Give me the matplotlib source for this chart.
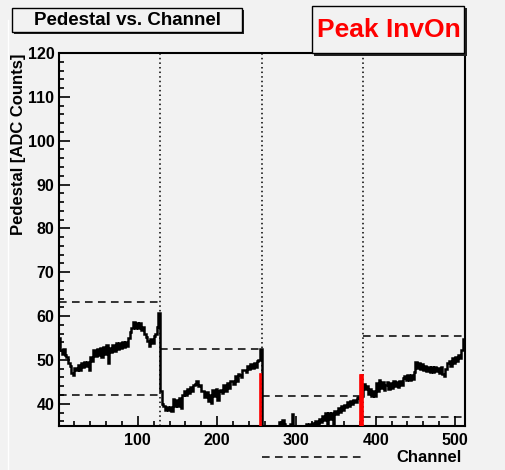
import numpy as np
import matplotlib
matplotlib.use("Agg")
import matplotlib.pyplot as plt
from matplotlib.patches import Rectangle
from matplotlib.lines import Line2D
from matplotlib.ticker import MultipleLocator

plt.rcParams['font.family'] = ['Liberation Sans', 'DejaVu Sans']
plt.rcParams['font.weight'] = 'bold'

# pedestal per channel pair (2 channels per bin), one list per 128-channel chip
chip0 = [55.0, 52.2, 51.4, 52.6, 51.2, 50.6, 49.3, 48.6, 47.0, 46.6, 48.2, 47.6, 48.9, 47.8, 49.4, 48.4,
         49.6, 48.6, 49.5, 47.7, 50.6, 49.8, 52.2, 50.9, 52.4, 51.2, 52.7, 50.6, 53.0, 51.4, 53.3, 49.4,
         52.8, 51.9, 53.5, 52.0, 53.8, 52.6, 53.9, 52.8, 54.1, 53.0, 54.2, 53.2, 55.0, 56.4, 57.2, 58.6,
         57.2, 58.5, 57.3, 58.4, 56.9, 57.4, 55.8, 55.2, 54.4, 53.2, 54.8, 53.9, 55.4, 55.9, 57.6, 60.8]
chip1 = [43.0, 40.0, 39.4, 38.6, 39.3, 38.5, 39.2, 38.4, 41.2, 39.5, 40.9, 39.4, 41.3, 39.0, 42.0, 42.8,
         41.9, 43.4, 42.5, 43.9, 42.9, 44.3, 44.4, 45.1, 44.0, 44.3, 42.8, 42.9, 41.6, 42.7, 40.7, 42.0,
         40.1, 43.1, 41.8, 43.3, 40.9, 42.9, 43.1, 42.4, 44.2, 43.0, 44.8, 43.5, 45.2, 45.3, 44.4, 46.3,
         45.1, 46.8, 46.5, 46.0, 47.6, 47.8, 47.3, 48.7, 47.9, 49.1, 48.1, 49.4, 48.5, 49.8, 50.0, 52.6]
chip2 = [33.0, 33.0, 33.0, 33.0, 33.0, 33.0, 33.0, 33.0, 33.0, 33.0, 33.0, 35.8, 34.0, 36.3, 35.5, 34.0,
         33.0, 33.0, 35.4, 37.6, 34.0, 33.0, 33.0, 33.0, 33.0, 33.0, 33.0, 33.0, 35.3, 34.0, 35.4, 35.0,
         35.6, 34.8, 36.1, 35.4, 36.6, 35.8, 37.2, 36.4, 37.8, 35.2, 38.0, 36.6, 37.9, 34.8, 38.4, 37.6,
         39.0, 38.2, 39.4, 38.6, 39.8, 39.2, 40.3, 39.6, 40.6, 40.0, 40.9, 40.4, 41.3, 41.6, 40.9, 41.8]
chip3 = [44.6, 43.3, 44.1, 42.2, 43.3, 41.7, 42.9, 41.8, 44.7, 43.0, 45.5, 43.7, 45.0, 43.2, 44.2, 44.9,
         43.3, 44.7, 43.6, 45.1, 44.0, 45.0, 43.9, 45.1, 44.2, 45.8, 46.4, 45.4, 46.5, 45.5, 46.6, 45.7,
         47.2, 49.6, 48.2, 49.2, 48.0, 49.0, 47.6, 48.6, 47.4, 48.5, 47.3, 48.3, 47.2, 48.4, 47.4, 48.2,
         47.1, 48.5, 46.9, 46.4, 48.0, 49.2, 49.8, 48.7, 50.4, 49.4, 50.7, 49.8, 51.2, 50.4, 52.2, 54.8]
pedestal = chip0 + chip1 + chip2 + chip3
bin_edges = np.arange(0, 513, 2)

chip_bounds = [0, 128, 256, 384, 512]
upper_cut = [63.2, 52.4, 41.7, 55.5]
lower_cut = [42.1, 31.0, 28.0, 36.9]

bad_channels = [255, 381, 382, 383]
bad_values = [46.9, 46.6, 46.6, 46.6]

bg = '#f2f2f2'
W, H = 505, 470
fig = plt.figure(figsize=(W / 100, H / 100), dpi=100, facecolor=bg)
ax = fig.add_axes([58.5 / W, 1 - 425.7 / H, 406 / W, 372.7 / H], facecolor=bg)

def fx(x):
    return x / W

def fy(y):
    return 1 - y / H

# pad border lines
fig.add_artist(Line2D([fx(8), fx(8)], [fy(20), fy(470)], color='white', lw=1))

ax.stairs(pedestal, bin_edges, baseline=None, color='black', lw=1.8)
ax.bar(bad_channels, [v - 30 for v in bad_values], bottom=30, width=1.0,
       color='red', edgecolor='red', lw=1.2, zorder=3)

for i in range(4):
    ax.hlines([upper_cut[i], lower_cut[i]], chip_bounds[i], chip_bounds[i + 1],
              colors='black', linestyles=(0, (5, 3.5)), lw=1.1)
for b in chip_bounds[1:4]:
    ax.axvline(b, color='black', ls=(0, (1, 2)), lw=1.1)

ax.set_xlim(0, 512)
ax.set_ylim(35, 120)
ax.set_xticks([100, 200, 300, 400, 500])
ax.set_yticks(range(40, 121, 10))
ax.xaxis.set_minor_locator(MultipleLocator(20))
ax.yaxis.set_minor_locator(MultipleLocator(2))
ax.tick_params(axis='both', which='both', direction='in', width=1.2, labelsize=11.5)
ax.tick_params(axis='y', which='major', length=8, pad=3)
ax.tick_params(axis='y', which='minor', length=3.8)
ax.tick_params(axis='x', which='major', length=7.5, pad=5)
ax.tick_params(axis='x', which='minor', length=3.8)
for s in ax.spines.values():
    s.set_linewidth(1.5)

fig.text(fx(18.5), fy(54), 'Pedestal [ADC Counts]', rotation=90, ha='center', va='top',
         fontsize=12, fontweight='bold')
fig.text(fx(462), fy(462), 'Channel', ha='right', va='baseline', fontsize=12, fontweight='bold')
fig.add_artist(Line2D([fx(262), fx(361)], [fy(457), fy(457)], color='black', lw=1.1,
                      ls=(0, (5, 3.5))))

# title box with shadow
fig.add_artist(Rectangle((fx(14), fy(34)), (242 - 12) / W, (32 - 8) / H, facecolor='#222222',
                         edgecolor='none'))
fig.add_artist(Rectangle((fx(12), fy(32)), (242 - 12) / W, (32 - 8) / H, facecolor=bg,
                         edgecolor='black', lw=1))
fig.text(fx(127), fy(20.5), 'Pedestal vs. Channel', ha='center', va='center', fontsize=13.5,
         fontweight='bold')

# label box with shadow
fig.add_artist(Rectangle((fx(314), fy(55.5)), (464.3 - 311.7) / W, (53 - 5.7) / H,
                         facecolor='#222222', edgecolor='none'))
fig.add_artist(Rectangle((fx(311.7), fy(53)), (464.3 - 311.7) / W, (53 - 5.7) / H,
                         facecolor=bg, edgecolor='black', lw=1))
fig.text(fx(388.5), fy(30), 'Peak InvOn', ha='center', va='center', fontsize=19,
         fontweight='bold', color='red')

fig.savefig('out.png', dpi=100, facecolor=bg)
